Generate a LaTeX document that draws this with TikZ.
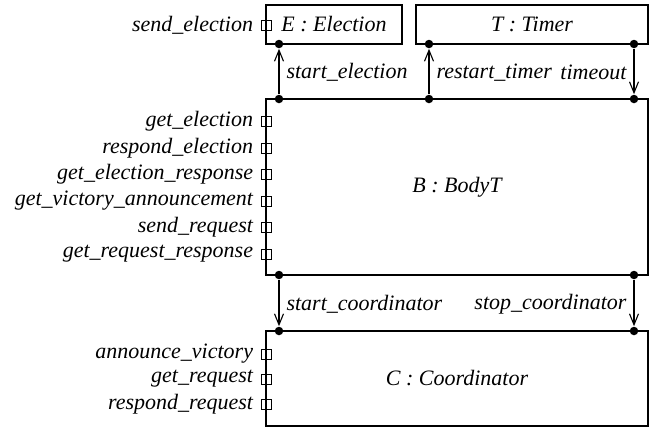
\documentclass[tikz,border=0pt]{standalone}
\usepackage{fontspec}
\setmainfont{Liberation Serif}
\usetikzlibrary{arrows.meta,positioning}
\tikzset{comp/.style={draw,rectangle,line width=1.1pt,inner sep=0pt}}
\tikzset{port/.style={draw,rectangle,minimum size=10pt,inner sep=0pt,line width=0.8pt}}
\tikzset{portlbl/.style={left=7pt of #1,inner sep=0pt}}
\tikzset{dot/.style={circle,fill,inner sep=0pt,minimum size=8.5pt}}
\tikzset{lbl/.style={inner xsep=7pt,yshift=-1pt}}

\begin{document}
\begin{tikzpicture}[x=1pt,y=-1pt,font=\fontsize{22}{26}\selectfont\itshape,
  >={Straight Barb[length=11pt,width=9pt]},line width=1.1pt]
   \useasboundingbox (0,0) rectangle (663,432);
   \node[comp,minimum width=136pt,minimum height=39pt] (E) at (334,24.5) {E : Election};
   \node[comp,minimum width=232pt,minimum height=39pt] (T) at (532,24.5) {T : Timer};
   \node[comp,minimum width=382pt,minimum height=176pt] (B) at (457,187) {B : BodyT};
   \node[comp,minimum width=382pt,minimum height=95pt] (C) at (457,378.5) {C : Coordinator};
   % ports
   \node[port] (pse) at (266,25) {};
   \node[portlbl=pse] (lse) {send\_election};
   \node[port] (pge) at (266,121) {};
   \node[portlbl=pge] (lge) {get\_election};
   \node[port] (pre) at (266,148) {};
   \node[portlbl=pre] (lre) {respond\_election};
   \node[port] (pger) at (266,174.5) {};
   \node[portlbl=pger] (lger) {get\_election\_response};
   \node[port] (pgva) at (266,201) {};
   \node[portlbl=pgva] (lgva) {get\_victory\_announcement};
   \node[port] (psr) at (266,227.5) {};
   \node[portlbl=psr] (lsr) {send\_request};
   \node[port] (pgrr) at (266,254) {};
   \node[portlbl=pgrr] (lgrr) {get\_request\_response};
   \node[port] (pav) at (266,354) {};
   \node[portlbl=pav] (lav) {announce\_victory};
   \node[port] (pgr) at (266,379) {};
   \node[portlbl=pgr] (lgr) {get\_request};
   \node[port] (prr) at (266,404) {};
   \node[portlbl=prr] (lrr) {respond\_request};
   % connectors
   \node[dot] (e1) at (279,44) {};
   \node[dot] (b1) at (279,99) {};
   \node[dot] (t1) at (429,44) {};
   \node[dot] (b2) at (429,99) {};
   \node[dot] (t2) at (634,44) {};
   \node[dot] (b3) at (634,99) {};
   \node[dot] (b4) at (279,275) {};
   \node[dot] (c1) at (279,331) {};
   \node[dot] (b5) at (634,275) {};
   \node[dot] (c2) at (634,331) {};
    \path[->] (b1) edge node[right,lbl] {start\_election} (e1);
    \path[->] (b2) edge node[right,lbl] {restart\_timer} (t1);
    \path[->] (t2) edge node[left,lbl] {timeout} (b3);
    \path[->] (b4) edge node[right,lbl] {start\_coordinator} (c1);
    \path[->] (b5) edge node[left,lbl] {stop\_coordinator} (c2);
\end{tikzpicture}
\end{document}
